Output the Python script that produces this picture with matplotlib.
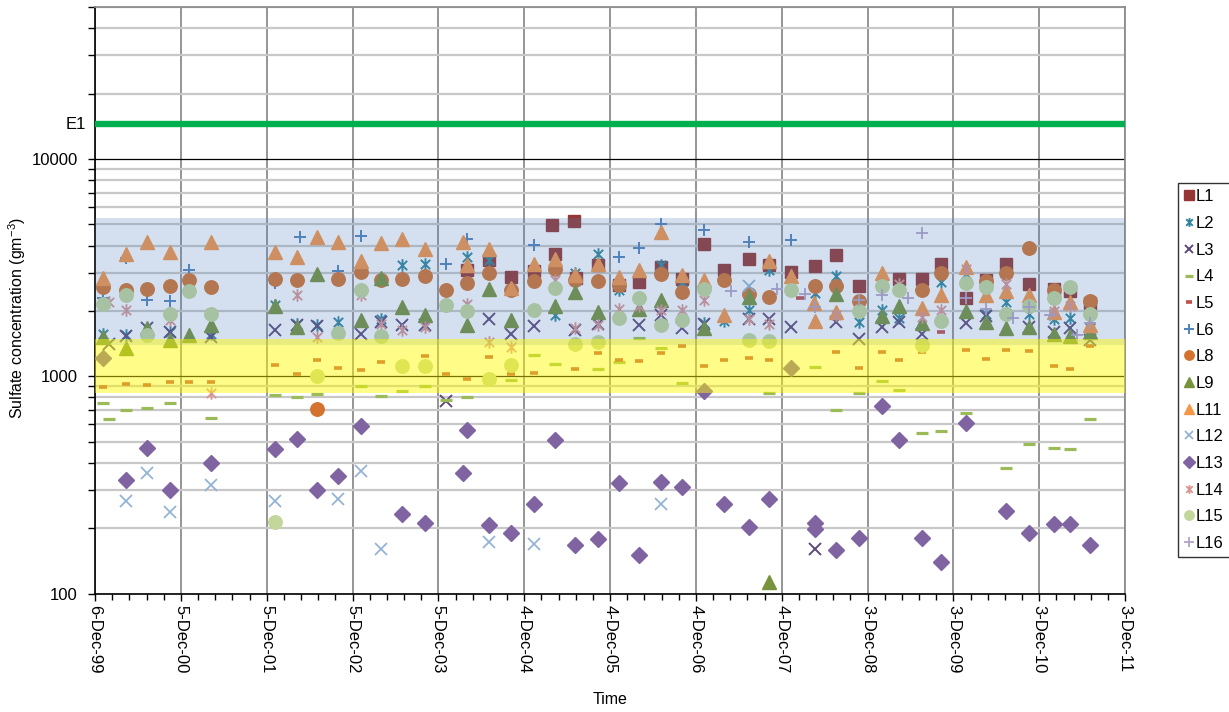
import numpy as np
import pandas as pd
import matplotlib
matplotlib.use("Agg")
import matplotlib.pyplot as plt
import matplotlib.dates as mdates
import matplotlib.transforms as mtransforms
from matplotlib.path import Path
from matplotlib.ticker import FixedLocator, LogLocator, NullFormatter, FuncFormatter

plt.rcParams['font.family'] = ['Liberation Sans', 'DejaVu Sans']
plt.rcParams['mathtext.fontset'] = 'custom'
plt.rcParams['mathtext.rm'] = 'Liberation Sans'
plt.rcParams['mathtext.default'] = 'regular'

# ---- data (sulfate concentration, gm-3) ----
L1_dates = ["2004-04-06", "2004-07-07", "2004-10-11", "2005-01-14", "2005-04-03", "2005-04-12",
            "2005-07-06", "2005-07-12", "2005-10-13", "2006-01-10", "2006-04-05", "2006-07-10",
            "2006-10-07", "2007-01-09", "2007-04-03", "2007-07-19", "2007-10-12", "2008-01-13",
            "2008-04-23", "2008-07-22", "2008-10-29", "2009-04-16", "2009-07-21", "2009-10-11",
            "2010-01-26", "2010-04-20", "2010-07-13", "2010-10-21", "2011-02-03", "2011-04-12",
            "2011-07-09"]
L1_vals = [3074, 3430, 2860, 3042, 4954, 3668, 5187, 2846, 3240, 2620, 2718, 3185,
           2815, 4080, 3100, 3484, 3260, 3030, 3205, 3610, 2594, 2797, 2797, 3300,
           2300, 2765, 3300, 2667, 2532, 2469, 2176]

L2_dates = ["2000-01-10", "2000-04-15", "2000-10-19", "2001-04-12", "2002-01-10", "2002-04-12",
            "2002-07-06", "2002-10-04", "2003-04-04", "2003-07-05", "2003-10-09", "2004-04-06",
            "2004-07-07", "2005-04-12", "2005-07-10", "2005-10-13", "2006-01-10", "2006-07-10",
            "2006-10-07", "2007-01-09", "2007-04-03", "2007-07-19", "2007-10-12", "2008-04-23",
            "2008-07-22", "2008-10-29", "2009-02-04", "2009-04-16", "2009-10-11", "2010-01-26",
            "2010-04-20", "2010-07-13", "2010-10-21", "2011-02-03", "2011-04-12", "2011-07-09"]
L2_vals = [1572, 1544, 1600, 1572, 2120, 1747, 1717, 1779, 1840, 3265, 3300, 3540,
           3418, 1909, 3000, 3668, 2490, 3240, 2720, 1760, 1790, 2012, 3073, 2418,
           2883, 1779, 2012, 1850, 2713, 2969, 1930, 2197, 1943, 1842, 1860, 1810]

L3_dates = ["2000-02-04", "2000-04-15", "2000-07-12", "2000-10-19", "2001-04-12", "2002-01-10",
            "2002-04-12", "2002-07-06", "2003-01-09", "2003-04-04", "2003-07-05", "2003-10-09",
            "2004-01-07", "2004-07-07", "2004-10-11", "2005-01-14", "2005-07-10", "2005-10-13",
            "2006-04-05", "2006-07-10", "2006-10-07", "2007-01-09", "2007-07-19", "2007-10-12",
            "2008-01-13", "2008-04-23", "2008-07-22", "2008-10-29", "2009-02-04", "2009-04-16",
            "2009-07-21", "2010-01-26", "2010-04-20", "2010-10-21", "2011-02-03", "2011-04-12",
            "2011-07-09"]
L3_vals = [1410, 1540, 1660, 1600, 1515, 1640, 1720, 1700, 1572, 1780, 1717, 1717,
           770, 1842, 1572, 1699, 1630, 1747, 1717, 1909, 1660, 1740, 1830, 1842,
           1687, 160, 1779, 1491, 1687, 1780, 1572, 1760, 1890, 1690, 1600, 1660, 1465]

L4_dates = ["2000-01-10", "2000-02-04", "2000-04-15", "2000-07-12", "2000-10-19", "2001-04-12",
            "2002-01-10", "2002-04-12", "2002-07-06", "2003-01-09", "2003-04-04", "2003-07-05",
            "2003-10-09", "2004-01-07", "2004-04-06", "2004-07-07", "2004-10-11", "2005-01-14",
            "2005-04-12", "2005-07-10", "2005-10-13", "2006-01-10", "2006-04-05", "2006-07-10",
            "2006-10-07", "2007-10-12", "2008-04-23", "2008-07-22", "2008-10-29", "2009-02-04",
            "2009-04-16", "2009-07-21", "2009-10-11", "2010-01-26", "2010-07-13", "2010-10-21",
            "2011-02-03", "2011-04-12", "2011-07-09"]
L4_vals = [757, 634, 703, 715, 754, 643, 818, 803, 826, 906, 809, 853,
           906, 781, 803, 941, 959, 1258, 1144, 1370, 1085, 1164, 1500, 1355,
           932, 838, 1104, 698, 838, 948, 868, 550, 558, 678, 380, 490,
           469, 462, 636]

L5_dates = ["2000-01-10", "2000-04-15", "2000-07-12", "2000-10-19", "2001-01-09", "2001-04-12",
            "2002-01-10", "2002-04-12", "2002-07-06", "2002-10-04", "2003-01-09", "2003-04-04",
            "2003-10-09", "2004-01-07", "2004-04-06", "2004-07-07", "2004-10-11", "2005-01-14",
            "2005-07-10", "2005-10-13", "2006-01-10", "2006-04-05", "2006-07-10", "2006-10-07",
            "2007-01-09", "2007-04-03", "2007-07-19", "2007-10-12", "2008-02-20", "2008-07-22",
            "2008-10-29", "2009-02-04", "2009-04-16", "2009-07-21", "2009-10-11", "2010-01-26",
            "2010-04-20", "2010-07-13", "2010-10-21", "2011-02-03", "2011-04-12", "2011-07-09"]
L5_vals = [893, 919, 915, 938, 938, 945, 1132, 1029, 1193, 1096, 1066, 1164,
           1236, 1029, 976, 1228, 1021, 1036, 1085, 1285, 1193, 1176, 1285, 1384,
           1116, 1185, 1214, 1193, 2293, 1294, 1096, 1294, 1193, 1294, 1594, 1317,
           1206, 1326, 1308, 1116, 1085, 1379]

L6_dates = ["2000-01-10", "2000-04-15", "2000-07-12", "2000-10-19", "2001-01-09", "2002-01-10",
            "2002-04-25", "2002-10-04", "2003-01-09", "2004-01-07", "2004-04-06", "2005-01-14",
            "2006-01-10", "2006-04-05", "2006-07-10", "2007-01-09", "2007-07-19", "2008-01-13"]
L6_vals = [2300, 3500, 2240, 2220, 3100, 2700, 4400, 3052, 4409, 3276, 4300, 4007,
           3541, 3900, 5046, 4701, 4150, 4250]

L8_dates = ["2000-01-10", "2000-04-15", "2000-07-12", "2000-10-19", "2001-01-09", "2001-04-12",
            "2002-01-10", "2002-04-12", "2002-07-06", "2002-10-04", "2003-01-09", "2003-04-04",
            "2003-07-05", "2003-10-09", "2004-01-07", "2004-04-06", "2004-07-07", "2004-10-11",
            "2005-01-14", "2005-04-12", "2005-07-10", "2005-10-13", "2006-01-10", "2006-07-10",
            "2006-10-07", "2007-04-03", "2007-07-19", "2007-10-12", "2008-04-23", "2008-07-22",
            "2008-10-29", "2009-07-21", "2009-10-11", "2010-04-20", "2010-07-13", "2010-10-21",
            "2011-02-03", "2011-07-09"]
L8_vals = [2580, 2490, 2532, 2604, 2765, 2577, 2815, 2786, 705, 2795, 3021, 2765,
           2815, 2886, 2490, 2689, 2988, 2490, 2738, 3129, 2786, 2738, 2620, 2969,
           2445, 2786, 2401, 2320, 2594, 2594, 2224, 2490, 2988, 2738, 2988, 3897,
           2500, 2214]

L9_dates = ["2000-01-10", "2000-04-15", "2000-07-12", "2000-10-19", "2001-01-09", "2001-04-12",
            "2002-01-10", "2002-04-12", "2002-07-06", "2003-01-09", "2003-04-04", "2003-07-05",
            "2003-10-09", "2004-04-06", "2004-07-07", "2004-10-11", "2005-04-12", "2005-07-10",
            "2005-10-13", "2006-04-05", "2006-07-10", "2007-01-09", "2007-07-19", "2007-10-12",
            "2008-07-22", "2009-02-04", "2009-04-16", "2009-07-21", "2010-01-26", "2010-04-20",
            "2010-07-13", "2010-10-21", "2011-02-03", "2011-04-12", "2011-07-09"]
L9_vals = [1515, 1350, 1660, 1465, 1544, 1717, 2100, 1687, 2969, 1823, 2845, 2085,
           1909, 1717, 2532, 1810, 2100, 2445, 1976, 2049, 2237, 1660, 2320, 113,
           2385, 1889, 2100, 1757, 1992, 1779, 1669, 1690, 1572, 1530, 1600]

L11_dates = ["2000-01-10", "2000-04-15", "2000-07-12", "2000-10-19", "2001-04-12", "2002-01-10",
             "2002-04-12", "2002-07-06", "2002-10-04", "2003-01-09", "2003-04-04", "2003-07-05",
             "2003-10-09", "2004-03-17", "2004-04-06", "2004-07-07", "2004-10-11", "2005-01-14",
             "2005-04-12", "2005-07-10", "2005-10-13", "2006-01-10", "2006-04-05", "2006-07-10",
             "2006-10-07", "2007-01-09", "2007-04-03", "2007-10-12", "2008-01-13", "2008-04-20",
             "2008-04-25", "2008-07-22", "2009-02-04", "2009-07-21", "2009-10-11", "2010-01-26",
             "2010-04-20", "2010-07-13", "2010-10-21", "2011-02-03", "2011-04-12", "2011-07-09"]
L11_vals = [2850, 3670, 4150, 3735, 4150, 3735, 3541, 4377, 4150, 3395, 4108, 4300,
            3869, 4150, 3250, 3869, 2560, 3300, 3484, 2915, 3300, 2866, 3074, 4615,
            2915, 2786, 1909, 3384, 2890, 2176, 1798, 1976, 2993, 2070, 2361, 3185,
            2361, 2469, 2376, 1976, 2197, 1717]

L12_dates = ["2000-04-15", "2000-07-12", "2000-10-19", "2001-04-12", "2002-01-10", "2002-10-04",
             "2003-01-09", "2003-04-04", "2004-07-07", "2005-01-14", "2006-07-10", "2007-07-19"]
L12_vals = [266, 359, 238, 317, 266, 272, 365, 161, 172, 169, 259, 2600]

L13_dates = ["2000-01-10", "2000-04-15", "2000-07-12", "2000-10-19", "2001-04-12", "2002-01-10",
             "2002-04-12", "2002-07-06", "2002-10-04", "2003-01-09", "2003-07-05", "2003-10-09",
             "2004-03-17", "2004-04-06", "2004-07-07", "2004-10-11", "2005-01-14", "2005-04-12",
             "2005-07-10", "2005-10-13", "2006-01-10", "2006-04-05", "2006-07-10", "2006-10-07",
             "2007-01-09", "2007-04-03", "2007-07-19", "2007-10-12", "2008-01-13", "2008-04-23",
             "2008-04-23", "2008-07-22", "2008-10-29", "2009-02-04", "2009-04-16", "2009-07-21",
             "2009-10-11", "2010-01-26", "2010-07-13", "2010-10-21", "2011-02-03", "2011-04-12",
             "2011-07-09"]
L13_vals = [1220, 334, 470, 299, 400, 463, 517, 299, 348, 589, 232, 211,
            357, 568, 206, 189, 258, 508, 168, 179, 323, 150, 326, 310,
            856, 257, 203, 271, 1096, 211, 199, 159, 180, 728, 508, 180,
            140, 610, 241, 189, 210, 210, 168]

L14_dates = ["2000-02-04", "2000-04-15", "2000-10-19", "2001-04-12", "2002-04-12", "2002-07-06",
             "2003-01-09", "2003-04-04", "2003-07-05", "2003-10-09", "2004-01-07", "2004-04-06",
             "2004-07-07", "2004-10-11", "2005-04-12", "2005-07-10", "2005-10-13", "2006-01-10",
             "2006-04-05", "2006-07-10", "2006-10-07", "2007-01-09", "2007-07-19", "2007-10-12",
             "2008-07-22", "2009-04-16", "2009-07-21", "2009-10-11", "2010-01-26", "2010-07-13",
             "2011-02-03", "2011-04-12"]
L14_vals = [2200, 2010, 1820, 840, 2359, 1515, 2380, 1737, 1630, 1687, 2100, 2160,
            1438, 1365, 2765, 1660, 1717, 2049, 2100, 2012, 2012, 2237, 1830, 1737,
            1909, 2650, 1875, 2012, 3130, 2667, 2000, 2100]

L15_dates = ["2000-01-10", "2000-04-15", "2000-07-12", "2000-10-19", "2001-01-09", "2001-04-12",
             "2002-01-10", "2002-07-06", "2002-10-04", "2003-01-09", "2003-04-04", "2003-07-05",
             "2003-10-09", "2004-01-07", "2004-04-06", "2004-07-07", "2004-10-11", "2005-01-14",
             "2005-04-12", "2005-07-10", "2005-10-13", "2006-01-10", "2006-04-05", "2006-07-10",
             "2006-10-07", "2007-01-09", "2007-07-19", "2007-10-12", "2008-01-13", "2008-10-29",
             "2009-02-04", "2009-04-16", "2009-07-21", "2009-10-11", "2010-01-26", "2010-04-20",
             "2010-07-13", "2010-10-21", "2011-02-03", "2011-04-12", "2011-07-09"]
L15_vals = [2150, 2380, 1544, 1929, 2461, 1943, 214, 1000, 1583, 2504, 1533, 1116,
            1116, 2122, 1992, 976, 1124, 2012, 2550, 1414, 1438, 1854, 2290, 1729,
            1810, 2532, 1465, 1450, 2490, 1992, 2594, 2490, 1400, 1798, 2688, 2577,
            1943, 2100, 2290, 2577, 1943]

L16_dates = ["2007-05-03", "2007-11-15", "2008-03-13", "2008-04-23", "2008-10-29", "2009-02-04",
             "2009-05-25", "2009-07-21", "2010-01-26", "2010-04-20", "2010-08-13", "2010-10-21",
             "2011-01-20", "2011-05-15", "2011-07-09"]
L16_vals = [2469, 2510, 2383, 2085, 2250, 2370, 2302, 4583, 2300, 2050, 1863, 2085,
            1910, 1544, 1757]

E1_level = 14500
blue_band = (1389, 5353)
yellow_band = (838, 1491)

x_start = "1999-12-06"
x_end = "2011-12-03"

# Excel style star marker: x with a vertical bar
star = Path([(0, -1), (0, 1), (-0.75, -0.75), (0.75, 0.75), (-0.75, 0.75), (0.75, -0.75)],
            [Path.MOVETO, Path.LINETO] * 3)

# label, dates, values, color, marker, size, edge width, filled
series = [
    ("L1", L1_dates, L1_vals, "#953735", "s", 9.3, 1.0, True),
    ("L2", L2_dates, L2_vals, "#31859C", star, 9.0, 1.4, False),
    ("L3", L3_dates, L3_vals, "#5F497A", "x", 8.3, 1.4, False),
    ("L4", L4_dates, L4_vals, "#9BBB59", "_", 8.6, 2.3, False),
    ("L5", L5_dates, L5_vals, "#C0504D", "_", 5.2, 2.6, False),
    ("L6", L6_dates, L6_vals, "#4F81BD", "+", 9.3, 1.4, False),
    ("L8", L8_dates, L8_vals, "#D4732F", "o", 9.7, 1.0, True),
    ("L9", L9_dates, L9_vals, "#77933C", "^", 9.8, 1.0, True),
    ("L11", L11_dates, L11_vals, "#F79646", "^", 9.8, 1.0, True),
    ("L12", L12_dates, L12_vals, "#95B3D7", "x", 8.7, 1.3, False),
    ("L13", L13_dates, L13_vals, "#8064A2", "D", 8.3, 1.0, True),
    ("L14", L14_dates, L14_vals, "#D99694", star, 9.0, 1.3, False),
    ("L15", L15_dates, L15_vals, "#C3D69B", "o", 9.7, 1.0, True),
    ("L16", L16_dates, L16_vals, "#B3A2C7", "+", 9.3, 1.3, False),
]

fig = plt.figure(figsize=(12.29, 7.12), dpi=100)
ax = fig.add_axes([95 / 1229, 1 - 593.5 / 712, 1030 / 1229, 586.2 / 712])

for i, (lab, d, v, col, mk, ms, mew, filled) in enumerate(series):
    ax.plot(pd.to_datetime(d), v, linestyle="none", marker=mk, markersize=ms,
            markerfacecolor=col if filled else "none", markeredgecolor=col,
            markeredgewidth=mew, label=lab, zorder=3 + i * 0.01)

# threshold bands drawn over the points, as in the source chart
ax.axhspan(*blue_band, color="#4F81BD", alpha=0.24, lw=0, zorder=4)
ax.axhspan(*yellow_band, color="#FFFA00", alpha=0.47, lw=0, zorder=4.1)
ax.axhline(E1_level, color="#00B050", lw=4.6, zorder=5)

ax.set_yscale("log")
ax.set_ylim(100, 50000)
t0, t1 = pd.Timestamp(x_start), pd.Timestamp(x_end)
ax.set_xlim(t0, t1)

major = [mdates.date2num(t0 + pd.Timedelta(days=365 * k)) for k in range(13)]
minor = [mdates.date2num(t0 + pd.Timedelta(days=73 * k)) for k in range(61)]
ax.xaxis.set_major_locator(FixedLocator(major))
ax.xaxis.set_minor_locator(FixedLocator(minor))


def fmt_date(x, pos):
    d = mdates.num2date(x)
    return f"{d.day}-{d:%b-%y}"


ax.xaxis.set_major_formatter(FuncFormatter(fmt_date))
ax.yaxis.set_major_locator(FixedLocator([100, 1000, 10000]))
ax.yaxis.set_major_formatter(FuncFormatter(lambda v, p: f"{int(round(v))}"))
ax.yaxis.set_minor_locator(LogLocator(base=10, subs=np.arange(2, 10)))
ax.yaxis.set_minor_formatter(NullFormatter())

ax.set_axisbelow(True)
ax.xaxis.grid(True, which="major", color="#8C8C8C", lw=1.3)
ax.yaxis.grid(True, which="minor", color="#C8C8C8", lw=1.6)
ax.yaxis.grid(True, which="major", color="#000000", lw=0.9)

ax.tick_params(axis="x", which="major", length=5, width=1, pad=3.5, labelsize=12, labelrotation=270)
ax.tick_params(axis="x", which="minor", length=4, width=1)
ax.tick_params(axis="y", which="major", length=5, width=1, pad=7.5, labelsize=12)
ax.tick_params(axis="y", which="minor", length=5, width=1)
for lbl in ax.get_xticklabels():
    lbl.set_va("top")
    lbl.set_ha("center")

for s in ["left", "bottom"]:
    ax.spines[s].set_color("black")
    ax.spines[s].set_linewidth(1.2)
for s in ["top", "right"]:
    ax.spines[s].set_color("#8C8C8C")
    ax.spines[s].set_linewidth(1.3)

trans = mtransforms.blended_transform_factory(ax.transAxes, ax.transData)
ax.text(-0.0087, E1_level, "E1", transform=trans, ha="right", va="center", fontsize=12)

ax.set_ylabel("Sulfate concentration (gm$^{-3}$)", fontsize=11.5, va="center")
ax.yaxis.set_label_coords(-0.0757, 0.47)
ax.set_xlabel("Time", fontsize=11.5)
ax.xaxis.set_label_coords(0.5, -0.168)

leg = ax.legend(loc="upper left", bbox_to_anchor=(1178 / 1229, 1 - 183 / 712),
                bbox_transform=fig.transFigure, frameon=True, fancybox=False,
                fontsize=12, markerscale=0.7, handlelength=0.5, handletextpad=0.2,
                labelspacing=0.7, borderpad=0.38, borderaxespad=0)
leg.get_frame().set_edgecolor("black")
leg.get_frame().set_linewidth(1.0)

fig.savefig("out.png", dpi=100)
